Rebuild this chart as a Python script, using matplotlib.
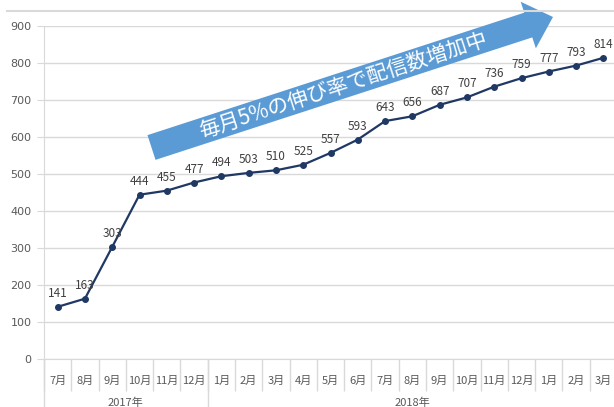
import numpy as np
import matplotlib
matplotlib.use("Agg")
import matplotlib.pyplot as plt
from matplotlib.patches import FancyArrow
from matplotlib.lines import Line2D

plt.rcParams['font.family'] = ['Noto Sans CJK JP', 'DejaVu Sans']

# data
months = ["7月", "8月", "9月", "10月", "11月", "12月",
          "1月", "2月", "3月", "4月", "5月", "6月", "7月", "8月", "9月",
          "10月", "11月", "12月", "1月", "2月", "3月"]
values = [141, 163, 303, 444, 455, 477, 494, 503, 510, 525, 557, 593,
          643, 656, 687, 707, 736, 759, 777, 793, 814]
years = ["2017年", "2018年"]
year_counts = [6, 15]
yticks = [0, 100, 200, 300, 400, 500, 600, 700, 800, 900]
banner = "毎月5%の伸び率で配信数増加中"

W, H = 614, 407
fig = plt.figure(figsize=(W / 100, H / 100), dpi=100)
ax = fig.add_axes([44 / W, 1 - 359 / H, (617 - 44) / W, (359 - 26) / H])

x = np.arange(len(values))
line_col = "#203864"
ax.plot(x, values, color=line_col, lw=1.6, marker="o", ms=4, zorder=3)
for xi, v in zip(x, values):
    ax.annotate(str(v), (xi, v), xytext=(0, 5), textcoords="offset points",
                ha="center", va="bottom", fontsize=8.5, color="#404040")

ax.set_xlim(-0.5, len(values) - 0.5)
ax.set_ylim(0, 900)
ax.set_yticks(yticks)
ax.yaxis.grid(True, color="#D9D9D9", lw=1)
ax.set_axisbelow(True)
ax.tick_params(axis="y", length=5, color="#D9D9D9", labelsize=8,
               labelcolor="#595959", pad=4)
for lab in ax.get_yticklabels():
    lab.set_family("DejaVu Sans")

ax.set_xticks(x)
ax.set_xticklabels(months)
ax.set_xticks(np.arange(len(values) + 1) - 0.5, minor=True)
ax.tick_params(axis="x", which="major", length=0, labelsize=8,
               labelcolor="#595959", pad=12)
ax.tick_params(axis="x", which="minor", length=23, color="#D9D9D9", width=1)

for s in ["top", "right"]:
    ax.spines[s].set_visible(False)
ax.spines["left"].set_color("#D9D9D9")
ax.spines["bottom"].set_color("#D9D9D9")

# year grouping
bounds = np.concatenate([[0], np.cumsum(year_counts)]) - 0.5
centers = (bounds[:-1] + bounds[1:]) / 2
sec = ax.secondary_xaxis("bottom")
sec.set_xticks(bounds)
sec.set_xticklabels([""] * len(bounds))
sec.set_xticks(centers, minor=True)
sec.set_xticklabels(years, minor=True)
sec.tick_params(axis="x", which="major", length=40, color="#D9D9D9", width=1)
sec.tick_params(axis="x", which="minor", length=0, labelsize=8,
                labelcolor="#595959", pad=28)
sec.spines["bottom"].set_visible(False)

# top frame line
fig.add_artist(Line2D([7 / W, 1], [1 - 11 / H, 1 - 11 / H], color="#D9D9D9",
                      lw=1.5, transform=fig.transFigure))

# banner arrow in pixel coordinates
ov = fig.add_axes([0, 0, 1, 1])
ov.set_xlim(0, W)
ov.set_ylim(H, 0)
ov.axis("off")
x0, y0 = 151.5, 147.5
x1, y1 = 553, 17
ov.add_patch(FancyArrow(x0, y0, x1 - x0, y1 - y0, width=26, head_width=49,
                        head_length=26, length_includes_head=True,
                        color="#5B9BD5", lw=0))
ang = np.degrees(np.arctan2(y0 - y1, x1 - x0))
ov.text(343, 86, banner, rotation=ang, rotation_mode="anchor", ha="center",
        va="center", fontsize=15, color="white")

fig.savefig("out.png", dpi=100)
